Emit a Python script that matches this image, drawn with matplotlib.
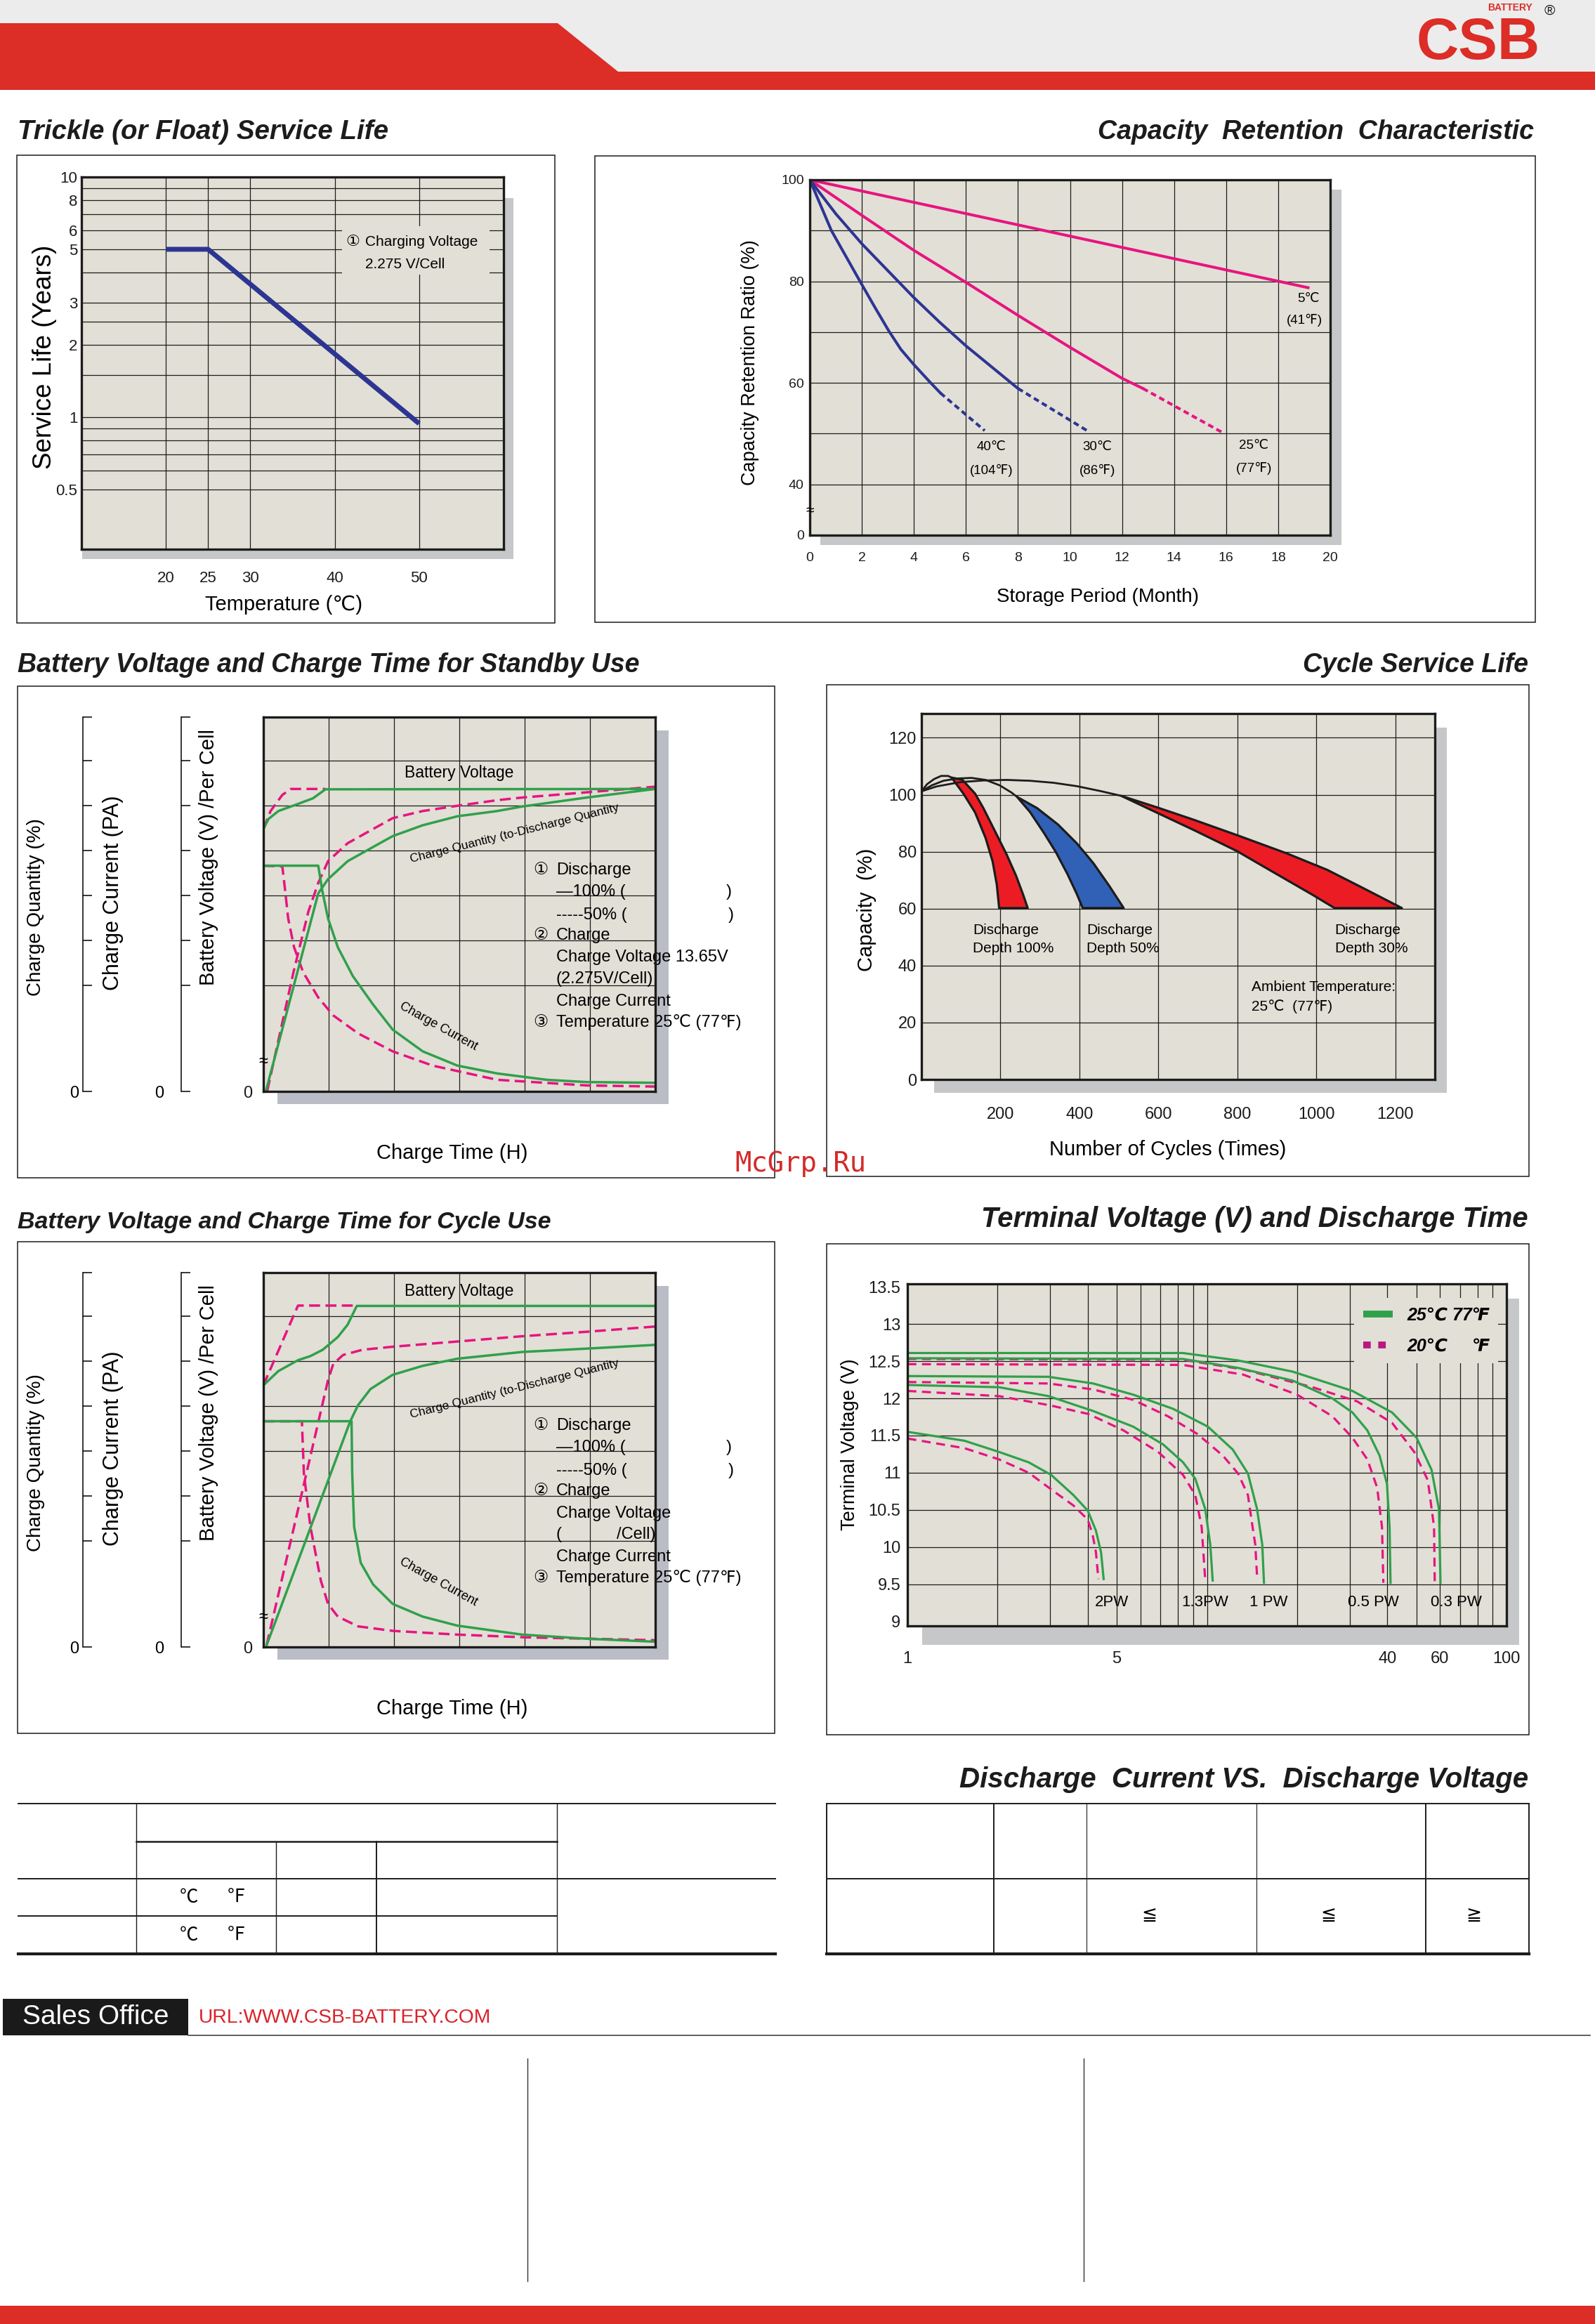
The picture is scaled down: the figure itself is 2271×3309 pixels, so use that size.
import numpy as np
import matplotlib
matplotlib.use("Agg")
import matplotlib.pyplot as plt
from matplotlib import font_manager
from matplotlib.patches import Rectangle, Polygon
from matplotlib.lines import Line2D
from matplotlib.ticker import NullLocator

plt.rcParams["font.family"] = ["Liberation Sans", "DejaVu Sans", "Noto Sans CJK SC"]
plt.rcParams["axes.unicode_minus"] = False

W, H = 2271, 3309
BG = "#e2dfd6"
INK = "#1c1c1c"
RED = "#dc2d27"
NAVY = "#2d3592"
PINK = "#e6157f"
GREEN = "#30a04b"

# ---- trickle (float) service life ----
trickle_temp = [20, 25, 50]
trickle_years = [5.0, 5.0, 0.94]
trickle_grid = [0.5, 0.6, 0.7, 0.8, 0.9, 1, 1.5, 2, 2.5, 3, 4, 5, 6, 7, 8, 9]
trickle_ticks = [0.5, 1, 2, 3, 5, 6, 8, 10]
temp_ticks = [20, 25, 30, 40, 50]

# ---- capacity retention (month, %) ----
ret_month_5 = [0, 19.15]
ret_pct_5 = [100, 78.75]
ret_month_25 = [0, 2, 4, 6, 8, 10, 12, 12.8]
ret_pct_25 = [100, 93.0, 86.1, 79.8, 73.3, 67.0, 60.9, 58.9]
ret_month_25x = [12.8, 15.9]
ret_pct_25x = [58.9, 50.1]
ret_month_30 = [0, 1, 2, 3, 4, 5, 6, 7, 8.0]
ret_pct_30 = [100, 93.3, 87.4, 82.1, 76.8, 71.9, 67.3, 63.1, 58.9]
ret_month_30x = [8.0, 10.75]
ret_pct_30x = [58.9, 50.3]
ret_month_40 = [0, 0.83, 1.93, 2.5, 3.04, 3.5, 4.0, 4.61, 5.02]
ret_pct_40 = [100, 90, 80, 74.9, 70.2, 66.6, 63.6, 60.2, 58.0]
ret_month_40x = [5.02, 6.72]
ret_pct_40x = [58.0, 50.6]

# ---- charge characteristics (time in grid columns, level in % of plot height) ----
charge_grid = [28.3, 40.3, 52.3, 64.3, 76.3, 88.3]

sb_v100 = ([0, 0.08, 0.23, 0.53, 0.76, 0.95, 6.0], [70.1, 72.8, 74.9, 76.8, 78.3, 80.7, 80.8])
sb_v50 = ([0, 0.11, 0.29, 0.42, 0.95], [70.1, 74.9, 79.2, 80.8, 80.8])
sb_q100 = ([0.04, 0.84, 0.99, 1.29, 1.68, 1.98, 2.44, 2.97, 3.58, 3.96, 4.95, 6.0],
           [0.2, 52.9, 56.7, 61.5, 65.3, 68.2, 71.1, 73.5, 74.9, 76.1, 78.5, 80.8])
sb_q50 = ([0.06, 0.46, 0.69, 0.84, 0.99, 1.29, 1.68, 1.98, 2.44, 2.97, 3.58, 3.96, 4.95, 6.0],
          [0.2, 31.8, 48.1, 55.7, 61.5, 66.3, 70.1, 73.0, 74.9, 76.3, 77.8, 78.5, 79.9, 81.4])
sb_i100 = ([0, 0.84, 0.9, 0.99, 1.14, 1.37, 1.68, 1.98, 2.44, 2.97, 3.58, 4.34, 4.95, 6.0],
           [60.3, 60.3, 53.8, 46.2, 38.5, 30.8, 23.2, 16.5, 10.7, 6.9, 4.8, 3.1, 2.5, 2.3])
sb_i50 = ([0, 0.29, 0.32, 0.38, 0.47, 0.61, 0.84, 1.07, 1.45, 1.98, 2.59, 3.58, 4.95, 6.0],
          [60.3, 60.1, 55.7, 46.2, 38.5, 31.8, 25.1, 20.3, 15.5, 10.7, 6.9, 3.1, 1.6, 1.3])

cu_v100 = ([0, 0.23, 0.53, 0.72, 0.91, 1.14, 1.29, 1.43, 6.0],
           [69.9, 73.7, 76.6, 77.7, 79.4, 82.8, 86.1, 91.1, 91.1])
cu_v50 = ([0, 0.53, 1.43], [69.9, 91.2, 91.2])
cu_q100 = ([0.05, 1.33, 1.45, 1.64, 1.98, 2.44, 2.97, 3.96, 4.95, 6.0],
           [0.5, 60.3, 64.6, 68.9, 72.7, 75.1, 77.0, 78.8, 79.7, 80.7])
cu_q50 = ([0.05, 0.99, 1.07, 1.22, 1.52, 1.98, 2.97, 3.96, 4.95, 6.0],
          [0.5, 71.3, 75.6, 78.0, 79.4, 80.2, 81.6, 83.0, 84.2, 85.6])
cu_i100 = ([0, 1.35, 1.36, 1.39, 1.49, 1.68, 1.98, 2.44, 2.97, 3.96, 4.95, 6.0],
           [60.3, 60.3, 46.4, 32.1, 22.5, 16.7, 11.5, 8.1, 5.7, 3.3, 2.2, 1.4])
cu_i50 = ([0, 0.59, 0.62, 0.72, 0.88, 0.99, 1.14, 1.45, 1.98, 2.97, 3.96, 6.0],
          [60.3, 60.3, 46.4, 32.1, 17.7, 11.5, 8.1, 5.5, 4.3, 3.3, 2.6, 1.8])

# ---- cycle service life (cycles, capacity %) ----
rise_x_100 = [0, 14.2, 32.0, 49.8, 67.6, 76.4]
rise_y_100 = [101.2, 103.7, 105.5, 106.6, 106.6, 106.0]
dod100_lx = [76.4, 106.1, 135.7, 162.4, 180.1, 190.8, 196.7]
dod100_ly = [106.0, 100.4, 93.8, 84.8, 76.6, 68.4, 60.2]
dod100_rx = [76.4, 103.1, 135.7, 156.4, 186.1, 215.7, 239.4, 257.2, 269.0]
dod100_ry = [106.0, 105.3, 100.4, 95.4, 87.2, 79.0, 71.6, 65.0, 60.2]
rise_x_50 = [0, 26.1, 55.7, 91.3, 126.8, 162.4, 198.0, 227.6, 242.4]
rise_y_50 = [101.2, 103.3, 104.9, 105.7, 105.9, 105.2, 103.3, 100.8, 99.2]
dod50_lx = [242.4, 275.0, 310.5, 340.1, 369.8, 393.5, 408.3]
dod50_ly = [99.2, 93.9, 86.5, 79.9, 72.1, 65.1, 60.2]
dod50_rx = [242.4, 292.7, 346.0, 393.5, 435.0, 476.4, 512.0]
dod50_ry = [99.2, 95.3, 89.5, 82.9, 76.0, 67.8, 60.2]
rise_x_30 = [0, 37.9, 97.2, 156.4, 215.7, 275.0, 334.2, 393.5, 452.7, 506.0]
rise_y_30 = [101.2, 102.9, 104.4, 105.0, 105.2, 104.9, 104.2, 103.0, 101.3, 99.6]
dod30_lx = [506.0, 597.6, 689.5, 799.0, 866.0, 989.7, 1046.0]
dod30_ly = [99.6, 93.6, 87.6, 80.2, 74.8, 64.9, 60.2]
dod30_rx = [506.0, 597.6, 689.5, 799.0, 926.8, 1027.6, 1115.7, 1216.5]
dod30_ry = [99.6, 95.5, 91.2, 85.8, 79.3, 73.6, 67.4, 60.2]

# ---- terminal voltage vs discharge time (min, V) ----
pw_labels = ["2PW", "1.3PW", "1 PW", "0.5 PW", "0.3 PW"]
pw_label_x = [4.82, 9.86, 16.1, 35.9, 68.1]
t25 = [[1, 1.55, 2.02, 2.54, 3.02, 3.58, 4.0, 4.26, 4.43, 4.52],
       [1, 2.02, 2.96, 4.17, 5.67, 7.14, 8.32, 9.14, 9.87, 10.26, 10.45],
       [1, 2.96, 4.17, 5.67, 7.7, 10.07, 12.2, 13.7, 14.7, 15.3, 15.5],
       [1, 8.3, 12.7, 19.3, 26.2, 30.6, 34.3, 37.7, 39.9, 40.7, 41.0],
       [1, 8.3, 12.7, 19.3, 30.6, 41.5, 50.1, 56.2, 59.5, 60.2]]
v25 = [[11.55, 11.43, 11.28, 11.14, 10.97, 10.70, 10.49, 10.22, 9.93, 9.57],
       [12.18, 12.15, 12.03, 11.83, 11.62, 11.38, 11.14, 10.92, 10.51, 10.03, 9.55],
       [12.30, 12.29, 12.20, 12.05, 11.86, 11.62, 11.31, 10.99, 10.51, 10.03, 9.52],
       [12.54, 12.53, 12.41, 12.24, 12.0, 11.81, 11.57, 11.23, 10.85, 10.27, 9.52],
       [12.61, 12.61, 12.51, 12.36, 12.10, 11.81, 11.47, 11.04, 10.51, 9.52]]
t20 = [[1, 1.55, 2.02, 2.54, 3.08, 3.58, 4.0, 4.15, 4.26, 4.34],
       [1, 2.02, 2.96, 4.02, 5.26, 6.87, 8.32, 9.14, 9.6, 9.87],
       [1, 2.96, 4.17, 5.67, 7.4, 9.3, 11.3, 12.7, 13.7, 14.2, 14.5, 14.7],
       [1, 8.3, 13.2, 20.0, 26.2, 30.6, 34.3, 37.0, 38.4, 38.8],
       [1, 8.3, 13.2, 22.5, 31.7, 41.5, 49.2, 54.6, 57.3, 57.6]]
v20 = [[11.46, 11.33, 11.18, 11.0, 10.75, 10.56, 10.37, 10.17, 9.93, 9.57],
       [12.10, 12.03, 11.91, 11.79, 11.57, 11.28, 10.97, 10.70, 10.27, 9.55],
       [12.22, 12.20, 12.12, 11.98, 11.76, 11.52, 11.23, 10.99, 10.70, 10.27, 10.03, 9.60],
       [12.46, 12.45, 12.32, 12.05, 11.76, 11.47, 11.18, 10.80, 10.27, 9.52],
       [12.53, 12.52, 12.39, 12.15, 11.96, 11.67, 11.28, 10.90, 10.27, 9.52]]
volt_ticks = [9, 9.5, 10, 10.5, 11, 11.5, 12, 12.5, 13, 13.5]
time_ticks = [1, 5, 40, 60, 100]
time_grid = [2, 3, 4, 5, 6, 7, 8, 9, 10, 20, 30, 40, 50, 60, 70, 80, 90]

fonts = {f.name for f in font_manager.fontManager.ttflist}
narrow = "Liberation Sans Narrow" in fonts

fig = plt.figure(figsize=(W / 100, H / 100), dpi=100, facecolor="white")


def px_axes(x0, y0, x1, y1):
    return fig.add_axes([x0 / W, 1 - y1 / H, (x1 - x0) / W, (y1 - y0) / H])


def ftext(x, y, s, **kw):
    return fig.text(x / W, 1 - y / H, s, **kw)


def frect(x0, y0, x1, y1, **kw):
    r = Rectangle((x0 / W, 1 - y1 / H), (x1 - x0) / W, (y1 - y0) / H,
                  transform=fig.transFigure, **kw)
    fig.add_artist(r)


def fline(xs, ys, lw=1.2, color=INK):
    fig.add_artist(Line2D([x / W for x in xs], [1 - y / H for y in ys],
                          transform=fig.transFigure, lw=lw, color=color))


def title(x, y, s, size, ha="left"):
    ftext(x, y, s, fontsize=size, fontweight="bold", fontstyle="italic",
          ha=ha, va="baseline", color=INK)


def base_axes(x0, y0, x1, y1, shadow, shadow_color="#c6c7c9"):
    frect(*shadow, color=shadow_color, lw=0, zorder=-1)
    ax = px_axes(x0, y0, x1, y1)
    ax.set_facecolor(BG)
    for s in ax.spines.values():
        s.set_linewidth(2.4)
        s.set_color(INK)
        s.set_zorder(6)
    ax.tick_params(length=0, colors=INK)
    return ax


def vgrid(ax, xs):
    for x in xs:
        ax.axvline(x, color=INK, lw=0.9, zorder=1)


def hgrid(ax, ys):
    for y in ys:
        ax.axhline(y, color=INK, lw=0.9, zorder=1)


# ---------------- header ----------------
frect(0, 0, W, 102, color="#ececec", lw=0)
fig.add_artist(Polygon([(0, 1 - 33 / H), (794 / W, 1 - 33 / H), (880 / W, 1 - 102 / H),
                        (1, 1 - 102 / H), (1, 1 - 128 / H), (0, 1 - 128 / H)],
                       closed=True, transform=fig.transFigure, color=RED, lw=0))
if narrow:
    ftext(2105, 62, "CSB", fontsize=70, fontweight="bold", color=RED, ha="center", va="center",
          family="Liberation Sans Narrow")
else:
    ftext(2105, 62, "CSB", fontsize=60, fontweight="bold", color=RED, ha="center", va="center")
ftext(2150, 11, "BATTERY", fontsize=10, fontweight="bold", color=RED, ha="center", va="center")
ftext(2206, 15, "®", fontsize=15, color=INK, ha="center", va="center")

# ---------------- titles ----------------
title(25, 198, "Trickle (or Float) Service Life", 27.7)
title(2184, 198, "Capacity  Retention  Characteristic", 27, ha="right")
title(25, 957, "Battery Voltage and Charge Time for Standby Use", 27)
title(2176, 957, "Cycle Service Life", 27, ha="right")
title(25, 1749, "Battery Voltage and Charge Time for Cycle Use", 24.5)
title(2176, 1747, "Terminal Voltage (V) and Discharge Time", 29, ha="right")
title(2176, 2545, "Discharge  Current VS.  Discharge Voltage", 29, ha="right")

# ---------------- trickle service life ----------------
frect(24, 221, 790, 887, fill=False, lw=1.1, ec=INK)
ax = base_axes(116, 252, 717, 782, (117, 282, 731, 796))
ax.set_yscale("log")
ax.set_xlim(10, 60)
ax.set_ylim(0.282, 10)
vgrid(ax, temp_ticks)
hgrid(ax, trickle_grid)
ax.set_xticks(temp_ticks)
ax.set_yticks(trickle_ticks)
ax.set_yticklabels([f"{v:g}" for v in trickle_ticks])
ax.yaxis.set_minor_locator(NullLocator())
ax.tick_params(axis="x", labelsize=16, pad=22)
ax.tick_params(axis="y", labelsize=16, pad=4)
ax.add_patch(Rectangle((0.618, 0.738), 0.348, 0.129, transform=ax.transAxes,
                       color=BG, lw=0, zorder=1.5))
ax.text(0.626, 0.825, "①", transform=ax.transAxes, fontsize=16, va="center", zorder=4)
ax.text(0.673, 0.825, "Charging Voltage", transform=ax.transAxes, fontsize=15, va="center", zorder=4)
ax.text(0.673, 0.766, "2.275 V/Cell", transform=ax.transAxes, fontsize=15, va="center", zorder=4)
ax.plot(trickle_temp, trickle_years, color=NAVY, lw=5, solid_capstyle="butt", zorder=3)
ftext(64, 508, "Service Life (Years)", fontsize=26.5, rotation=90, ha="center", va="center")
ftext(404, 861, "Temperature (℃)", fontsize=21, ha="center", va="center")

# ---------------- capacity retention ----------------
frect(847, 222, 2186, 886, fill=False, lw=1.1, ec=INK)
ax = base_axes(1153, 256, 1894, 762, (1168, 270, 1910, 776))
ax.set_xlim(0, 20)
ax.set_ylim(30, 100)
vgrid(ax, range(2, 20, 2))
hgrid(ax, range(40, 100, 10))
ax.set_xticks(range(0, 21, 2))
ax.set_yticks([30, 40, 60, 80, 100])
ax.set_yticklabels(["0", "40", "60", "80", "100"])
ax.tick_params(axis="x", labelsize=14, pad=17)
ax.tick_params(axis="y", labelsize=14, pad=6)
dash = (0, (2.0, 1.3))
ax.plot(ret_month_5, ret_pct_5, color=PINK, lw=2.9, zorder=3)
ax.plot(ret_month_25, ret_pct_25, color=PINK, lw=2.9, zorder=3)
ax.plot(ret_month_25x, ret_pct_25x, color=PINK, lw=2.9, ls=dash, zorder=3)
ax.plot(ret_month_30, ret_pct_30, color=NAVY, lw=2.9, zorder=3)
ax.plot(ret_month_30x, ret_pct_30x, color=NAVY, lw=2.9, ls=dash, zorder=3)
ax.plot(ret_month_40, ret_pct_40, color=NAVY, lw=2.9, zorder=3)
ax.plot(ret_month_40x, ret_pct_40x, color=NAVY, lw=2.9, ls=dash, zorder=3)
for x, y, s in [(19.16, 76.5, "5℃"), (19.0, 72.4, "(41℉)"),
                (6.99, 47.4, "40℃"), (6.99, 42.8, "(104℉)"),
                (11.05, 47.4, "30℃"), (11.05, 42.8, "(86℉)"),
                (17.06, 47.6, "25℃"), (17.06, 43.1, "(77℉)")]:
    ax.text(x, y, s, fontsize=13.5, ha="center", va="center", zorder=4)
ax.text(0, 34.8, "≈", fontsize=15, ha="center", va="center", zorder=7)
ftext(1068, 516, "Capacity Retention Ratio (%)", fontsize=19.5, rotation=90, ha="center", va="center")
ftext(1563, 850, "Storage Period (Month)", fontsize=20, ha="center", va="center")


# ---------------- charge time charts ----------------
def charge_chart(top, v100, v50, q100, q50, i100, i50, volt_y, cv_lines):
    frect(25, top - 44, 1103, top + 656, fill=False, lw=1.1, ec=INK)
    ax = base_axes(375, top, 933, top + 533, (395, top + 19, 952, top + 551), "#bbbdc6")
    ax.set_xlim(0, 6)
    ax.set_ylim(0, 100)
    vgrid(ax, range(1, 6))
    hgrid(ax, charge_grid)
    ax.set_xticks([])
    ax.set_yticks([0])
    ax.set_yticklabels(["0"])
    ax.tick_params(axis="y", labelsize=17, pad=11)
    dsh = (0, (4.5, 2.2))
    for t, v in (v50, q50, i50):
        ax.plot(t, v, color=PINK, lw=2.5, ls=dsh, zorder=3)
    for t, v in (v100, q100, i100):
        ax.plot(t, v, color=GREEN, lw=2.5, zorder=3)
    ax.text(3.0, volt_y, "Battery Voltage", fontsize=16.5, ha="center", va="center", zorder=4)
    ax.text(3.85, 69.0, "Charge Quantity (to-Discharge Quantity", fontsize=12.5, rotation=14,
            ha="center", va="center", zorder=4)
    ax.text(2.68, 17.4, "Charge Current", fontsize=13, rotation=-29, ha="center", va="center", zorder=4)
    ax.text(0, 7.9, "≈", fontsize=17, ha="center", va="center", zorder=7)
    fs = 17
    ax.text(4.25, 59.1, "①", fontsize=fs, ha="center", va="center", zorder=4)
    ax.text(4.48, 59.1, "Discharge", fontsize=fs, va="center", zorder=4)
    ax.text(4.48, 53.2, "—100% (", fontsize=fs, va="center", zorder=4)
    ax.text(7.08, 53.2, ")", fontsize=fs, va="center", zorder=4)
    ax.text(4.48, 47.1, "-----50% (", fontsize=fs, va="center", zorder=4)
    ax.text(7.12, 47.1, ")", fontsize=fs, va="center", zorder=4)
    ax.text(4.25, 41.6, "②", fontsize=fs, ha="center", va="center", zorder=4)
    ax.text(4.48, 41.6, "Charge", fontsize=fs, va="center", zorder=4)
    for x, y, s in cv_lines:
        ax.text(x, y, s, fontsize=fs, va="center", zorder=4)
    ax.text(4.48, 24.1, "Charge Current", fontsize=fs, va="center", zorder=4)
    ax.text(4.25, 18.4, "③", fontsize=fs, ha="center", va="center", zorder=4)
    ax.text(4.48, 18.4, "Temperature 25℃ (77℉)", fontsize=fs, va="center", zorder=4)
    for xs, pad in [(118, 4), (258, 18)]:
        sc = px_axes(xs, top, xs + 20, top + 533)
        sc.patch.set_visible(False)
        for k in ("top", "right", "bottom"):
            sc.spines[k].set_visible(False)
        sc.spines["left"].set_linewidth(1.1)
        sc.set_ylim(0, 100)
        sc.set_xticks([])
        sc.set_yticks([0] + charge_grid + [100])
        sc.set_yticklabels(["0"] + [""] * (len(charge_grid) + 1))
        sc.tick_params(axis="y", direction="in", length=9, width=1.1, labelsize=17, pad=pad)
    ftext(51, top + 271, "Charge Quantity (%)", fontsize=20, rotation=90, ha="center", va="center")
    ftext(161, top + 250, "Charge Current (PA)", fontsize=22, rotation=90, ha="center", va="center")
    ftext(297, top + 199, "Battery Voltage (V) /Per Cell", fontsize=21, rotation=90, ha="center", va="center")
    ftext(644, top + 621, "Charge Time (H)", fontsize=21, ha="center", va="center")


charge_chart(1021, sb_v100, sb_v50, sb_q100, sb_q50, sb_i100, sb_i50, 85.0,
             [(4.48, 35.8, "Charge Voltage 13.65V"), (4.48, 30.1, "(2.275V/Cell)")])
charge_chart(1812, cu_v100, cu_v50, cu_q100, cu_q50, cu_i100, cu_i50, 95.0,
             [(4.48, 35.7, "Charge Voltage"), (4.48, 30.1, "("), (5.41, 30.1, "/Cell)")])

# ---------------- cycle service life ----------------
frect(1177, 975, 2177, 1675, fill=False, lw=1.1, ec=INK)
ax = base_axes(1312, 1016, 2043, 1537, (1330, 1036, 2060, 1556))
ax.set_xlim(0, 1300)
ax.set_ylim(0, 128.5)
vgrid(ax, range(200, 1300, 200))
hgrid(ax, range(20, 140, 20))
ax.set_xticks(range(200, 1300, 200))
ax.set_yticks(range(0, 140, 20))
ax.tick_params(axis="x", labelsize=17, pad=28)
ax.tick_params(axis="y", labelsize=17, pad=5)
for lx, ly, rx, ry, col in [(dod100_lx, dod100_ly, dod100_rx, dod100_ry, "#ec1c24"),
                            (dod50_lx, dod50_ly, dod50_rx, dod50_ry, "#3161b6"),
                            (dod30_lx, dod30_ly, dod30_rx, dod30_ry, "#ec1c24")]:
    ax.fill(list(lx) + list(rx[::-1]), list(ly) + list(ry[::-1]), facecolor=col,
            edgecolor=INK, lw=2.3, joinstyle="round", zorder=3)
for rx_, ry_ in [(rise_x_100, rise_y_100), (rise_x_50, rise_y_50), (rise_x_30, rise_y_30)]:
    ax.plot(rx_, ry_, color=INK, lw=2.0, zorder=3)
for x, s in [(130, "Discharge\nDepth 100%"), (418, "Discharge\nDepth 50%"), (1047, "Discharge\nDepth 30%")]:
    ax.text(x, 49.2, s, fontsize=15, va="center", linespacing=1.5, zorder=4)
ax.text(835, 29.0, "Ambient Temperature:\n25℃  (77℉)", fontsize=15, va="center", linespacing=1.5, zorder=4)
ftext(1234, 1295, "Capacity  (%)", fontsize=21, rotation=90, ha="center", va="center")
ftext(1663, 1637, "Number of Cycles (Times)", fontsize=21, ha="center", va="center")

# ---------------- terminal voltage ----------------
frect(1177, 1771, 2177, 2470, fill=False, lw=1.1, ec=INK)
ax = base_axes(1292, 1828, 2145, 2315, (1313, 1849, 2163, 2342))
ax.set_xscale("log")
ax.set_xlim(1, 100)
ax.set_ylim(8.94, 13.54)
vgrid(ax, time_grid)
hgrid(ax, volt_ticks[1:-1])
ax.set_xticks(time_ticks)
ax.set_xticklabels([str(t) for t in time_ticks])
ax.xaxis.set_minor_locator(NullLocator())
ax.set_yticks(volt_ticks)
ax.set_yticklabels([f"{v:g}" for v in volt_ticks])
ax.tick_params(axis="x", labelsize=17, pad=26)
ax.tick_params(axis="y", labelsize=17, pad=7)
for t, v in zip(t20, v20):
    ax.plot(t, v, color=PINK, lw=2.3, ls=(0, (4, 2.5)), zorder=3)
for t, v in zip(t25, v25):
    ax.plot(t, v, color=GREEN, lw=2.3, zorder=3)
for x, s in zip(pw_label_x, pw_labels):
    ax.text(x, 9.26, s, fontsize=16, ha="center", va="center", zorder=4)
h25 = Line2D([], [], color=GREEN, lw=7, solid_capstyle="butt")
h20 = Line2D([], [], color="#b8187f", lw=7, ls=(0, (1.1, 1.1)))
leg = ax.legend([h25, h20], ["25℃ 77℉", "20℃     ℉"], loc="upper right",
                bbox_to_anchor=(1.0, 0.985), frameon=True, facecolor=BG, edgecolor="none",
                framealpha=1, fancybox=False, handlelength=1.7, labelspacing=0.8,
                borderpad=0.5, prop={"weight": "bold", "style": "italic", "size": 18})
leg.set_zorder(5)
ftext(1210, 2057, "Terminal Voltage (V)", fontsize=19.5, rotation=90, ha="center", va="center")

# ---------------- tables ----------------
fline([25.6, 1104], [2568, 2568], lw=1.4)
fline([194, 194], [2568, 2782], lw=1.0)
fline([194, 793], [2622, 2622], lw=1.8)
fline([793, 793], [2568, 2782], lw=1.0)
fline([392.5, 392.5], [2622, 2782], lw=1.0)
fline([535.6, 535.6], [2622, 2782], lw=1.4)
fline([25.6, 1104], [2675, 2675], lw=1.4)
fline([25.6, 793], [2728.3, 2728.3], lw=1.4)
fline([25.6, 1104], [2781.7, 2781.7], lw=3)
for y in (2701.7, 2755):
    ftext(269, y, "℃", fontsize=19, ha="center", va="center", family="Noto Sans CJK SC")
    ftext(336, y, "℉", fontsize=19, ha="center", va="center", family="Noto Sans CJK SC")

fline([1176.5, 2176.5], [2568, 2568], lw=1.4)
for x, lw in [(1176.5, 1.4), (1414.6, 1.4), (1547.4, 0.8), (1789.4, 0.8), (2030.1, 1.4), (2176.5, 1.4)]:
    fline([x, x], [2568, 2782], lw=lw)
fline([1176.5, 2176.5], [2675, 2675], lw=1.4)
fline([1176.5, 2176.5], [2781.7, 2781.7], lw=3)
for x, s in [(1636.5, "≦"), (1891, "≦"), (2098.4, "≧")]:
    ftext(x, 2728, s, fontsize=19, ha="center", va="center", family=["DejaVu Sans", "Noto Sans CJK SC"])

# ---------------- footer ----------------
ftext(1140, 1657, "McGrp.Ru", fontsize=28, color="#d42a2a", ha="center", va="center",
      family="DejaVu Sans Mono")
frect(4, 2846, 268, 2898, color="#1a1a1a", lw=0)
ftext(136, 2872, "Sales Office", fontsize=28, color="white", ha="center", va="center")
ftext(283, 2873, "URL:WWW.CSB-BATTERY.COM", fontsize=20.3, color="#d9232a", va="center")
fline([268, 2264], [2898, 2898], lw=1.2, color="#444444")
fline([751, 751], [2931, 3248], lw=1.0, color="#333333")
fline([1543, 1543], [2931, 3248], lw=1.0, color="#333333")
frect(0, 3283, W, 3309, color=RED, lw=0)

fig.savefig("out.png", dpi=100, facecolor="white")
